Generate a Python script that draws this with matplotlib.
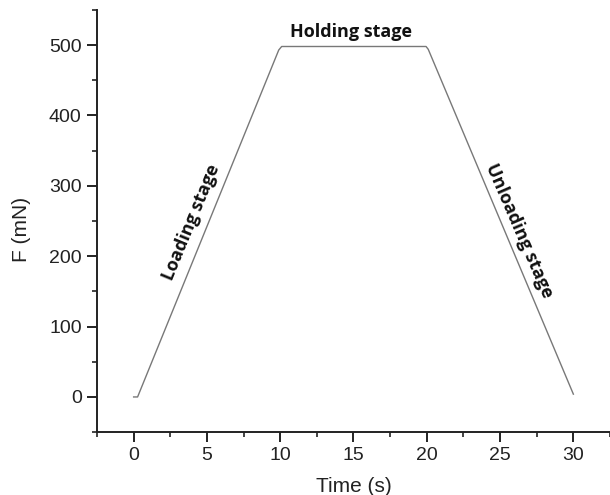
import numpy as np
import matplotlib.pyplot as plt
from matplotlib.ticker import MultipleLocator

# Perfil de carga do ensaio de nanoindentação
tempo = [0.0, 0.27, 9.9, 10.1, 19.95, 20.1, 30.0]       # s
forca = [0.0, 0.0, 493.0, 498.0, 498.0, 494.0, 4.0]     # mN

rotulos = ['Loading stage', 'Holding stage', 'Unloading stage']
pos_rotulos = [(3.95, 248), (14.8, 518), (26.3, 236)]
ang_rotulos = [67.5, 0, -66.5]

fig = plt.figure(figsize=(6.10, 4.95), dpi=100)
ax = fig.add_axes([0.159, 0.127, 0.841, 0.853])

ax.plot(tempo, forca, color='#787878', lw=1.0, solid_joinstyle='round')

ax.set_xlim(-2.5, 32.5)
ax.set_ylim(-50, 550)
ax.xaxis.set_major_locator(MultipleLocator(5))
ax.xaxis.set_minor_locator(MultipleLocator(2.5))
ax.yaxis.set_major_locator(MultipleLocator(100))
ax.yaxis.set_minor_locator(MultipleLocator(50))

for lado in ['top', 'right']:
    ax.spines[lado].set_visible(False)
for lado in ['left', 'bottom']:
    ax.spines[lado].set_linewidth(1.4)
    ax.spines[lado].set_color('#222222')

ax.tick_params(which='major', direction='out', length=7, width=1.4, color='#222222',
               labelsize=14, labelcolor='#222222', pad=4)
ax.tick_params(which='minor', direction='out', length=3.5, width=1.2, color='#222222')
for rot in ax.get_xticklabels() + ax.get_yticklabels():
    rot.set_fontfamily('Liberation Sans')

ax.set_xlabel('Time (s)', fontsize=15, family='Liberation Sans', color='#222222')
ax.set_ylabel('F (mN)', fontsize=15, family='Liberation Sans', color='#222222')
ax.xaxis.set_label_coords(0.501, -0.107)
ax.yaxis.set_label_coords(-0.128, 0.48)

for txt, (x, y), ang in zip(rotulos, pos_rotulos, ang_rotulos):
    ax.text(x, y, txt, rotation=ang, ha='center', va='center', fontsize=13,
            fontweight='bold', family='Open Sans', color='#111111',
            rotation_mode='anchor')

fig.savefig('out.png', dpi=100, facecolor='white')
